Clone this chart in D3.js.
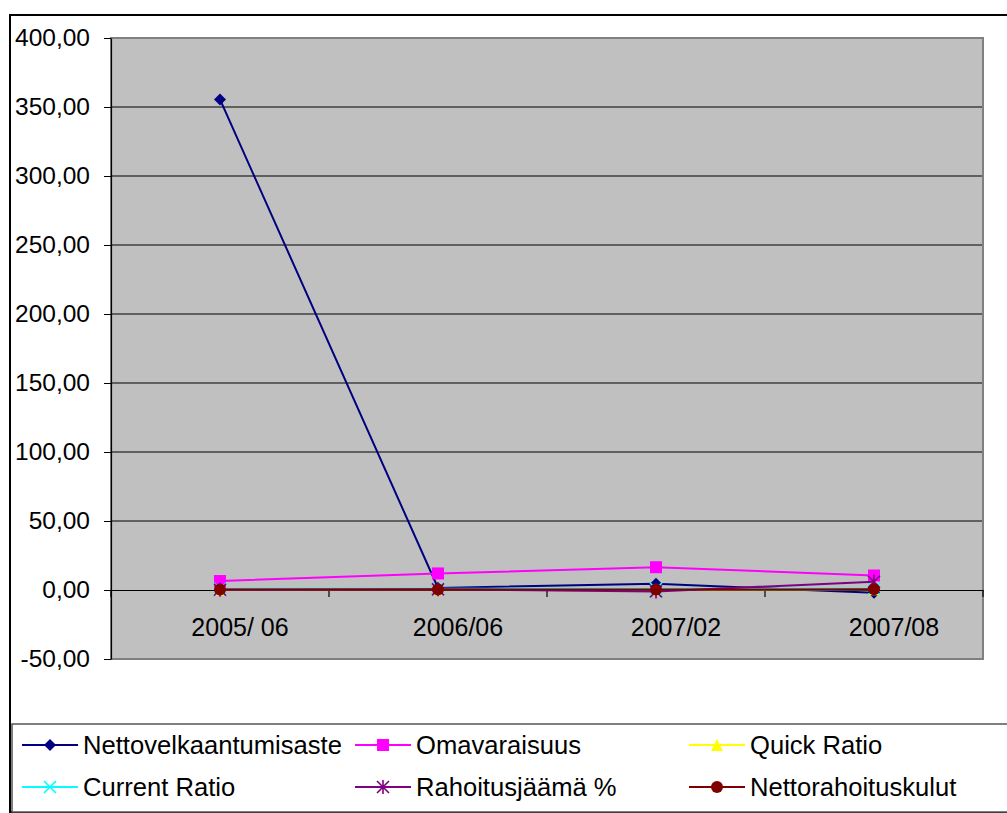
<!DOCTYPE html>
<html>
<head>
<meta charset="utf-8">
<script src="https://cdn.jsdelivr.net/npm/d3@7"></script>
<style>
  html, body { margin: 0; padding: 0; background: #ffffff; }
  svg { display: block; }
  text { font-family: "Liberation Sans", Arial, sans-serif; fill: #000; }
</style>
</head>
<body>
<svg id="chart" width="1007" height="813"></svg>
<script>
// Periods on the category axis
const categories = ["2005/ 06", "2006/06", "2007/02", "2007/08"];

// Key figures per period
const nettovelkaantumisaste = [355.5, 1.5, 4.5, -2];
const omavaraisuus = [6.5, 12, 16.5, 10.5];
const quickRatio = [0.4, 0.5, 0.4, 0.5];
const currentRatio = [0.8, 0.9, 0.8, 0.9];
const rahoitusjaama = [0.2, 0.5, -1, 6];
const nettorahoituskulut = [0.3, 0.4, 0.3, 0.6];

// Value axis ticks
const yTicks = [-50, 0, 50, 100, 150, 200, 250, 300, 350, 400];

const seriesNames = ["Nettovelkaantumisaste", "Omavaraisuus", "Quick Ratio",
                     "Current Ratio", "Rahoitusjäämä %", "Nettorahoituskulut"];
const seriesValues = [nettovelkaantumisaste, omavaraisuus, quickRatio,
                      currentRatio, rahoitusjaama, nettorahoituskulut];
const seriesColors = ["#000080", "#FF00FF", "#FFFF00", "#00FFFF", "#800080", "#800000"];
const seriesMarkers = ["diamond", "square", "triangle", "x", "asterisk", "circle"];

const series = seriesNames.map((name, i) => ({
  name, values: seriesValues[i], color: seriesColors[i], marker: seriesMarkers[i]
}));

const svg = d3.select("#chart");

// Plot area
const plot = { left: 111, right: 983, top: 38, bottom: 659 };

const x = d3.scaleBand().domain(categories).range([plot.left, plot.right]);
const y = d3.scaleLinear().domain([-50, 400]).range([plot.bottom, plot.top]);
const xc = c => x(c) + x.bandwidth() / 2;

const fiLocale = d3.formatLocale({ decimal: ",", thousands: " ", grouping: [3], currency: ["", " €"], minus: "-" });
const fmt = fiLocale.format(".2f");

// Outer chart frame
svg.append("rect")
  .attr("x", 10).attr("y", 15).attr("width", 1010).attr("height", 797)
  .attr("fill", "#fff").attr("stroke", "#000").attr("stroke-width", 2);

// Plot background
svg.append("rect")
  .attr("x", plot.left).attr("y", plot.top)
  .attr("width", plot.right - plot.left).attr("height", plot.bottom - plot.top)
  .attr("fill", "#C0C0C0");

// Horizontal gridlines
svg.append("g")
  .selectAll("line")
  .data(yTicks.filter(v => v > 0 && v < 400))
  .join("line")
  .attr("x1", plot.left).attr("x2", plot.right)
  .attr("y1", d => y(d)).attr("y2", d => y(d))
  .attr("stroke", "#000").attr("stroke-width", 1);

// Plot border
svg.append("rect")
  .attr("x", plot.left).attr("y", plot.top)
  .attr("width", plot.right - plot.left).attr("height", plot.bottom - plot.top)
  .attr("fill", "none").attr("stroke", "#808080").attr("stroke-width", 2);

// Value axis
const yAxis = svg.append("g")
  .attr("transform", `translate(${plot.left},0)`)
  .call(d3.axisLeft(y).tickValues(yTicks).tickFormat(fmt).tickSizeInner(7).tickSizeOuter(0).tickPadding(14));
yAxis.select(".domain").attr("stroke", "#000").attr("stroke-width", 1.2);
yAxis.selectAll(".tick line").attr("stroke", "#000");
yAxis.selectAll(".tick text").attr("font-size", 24.5)
  .style("font-family", '"Liberation Sans", Arial, sans-serif').attr("fill", "#000");

// Category axis at zero
const xAxis = svg.append("g")
  .attr("transform", `translate(0,${y(0)})`)
  .call(d3.axisBottom(x).tickSize(0).tickPadding(28));
xAxis.select(".domain").attr("stroke", "#000").attr("stroke-width", 1.2);
xAxis.selectAll(".tick text").attr("font-size", 25).attr("dx", 20)
  .style("font-family", '"Liberation Sans", Arial, sans-serif').attr("fill", "#000");

// Category boundary tick marks
const boundaries = categories.map(c => x(c)).concat([plot.right]);
xAxis.append("g").selectAll("line")
  .data(boundaries)
  .join("line")
  .attr("x1", d => d).attr("x2", d => d)
  .attr("y1", 0).attr("y2", 7)
  .attr("stroke", "#000").attr("stroke-width", 1.2);

// Marker drawing
function drawMarker(g, type, color) {
  const s = 6;
  switch (type) {
    case "diamond":
      g.append("path").attr("d", `M0,${-s}L${s},0L0,${s}L${-s},0Z`).attr("fill", color);
      break;
    case "square":
      g.append("rect").attr("x", -s).attr("y", -s).attr("width", 2 * s).attr("height", 2 * s).attr("fill", color);
      break;
    case "triangle":
      g.append("path").attr("d", `M0,${-s}L${s},${s}L${-s},${s}Z`).attr("fill", color);
      break;
    case "x":
      g.append("path").attr("d", `M${-s},${-s}L${s},${s}M${-s},${s}L${s},${-s}`)
        .attr("stroke", color).attr("stroke-width", 1.6).attr("fill", "none");
      break;
    case "asterisk":
      g.append("path").attr("d", `M${-s},${-s}L${s},${s}M${-s},${s}L${s},${-s}M0,${-s - 1}L0,${s + 1}`)
        .attr("stroke", color).attr("stroke-width", 1.6).attr("fill", "none");
      break;
    case "circle":
      g.append("circle").attr("r", s).attr("fill", color);
      break;
  }
}

// Series lines and markers
const line = d3.line().x((d, i) => xc(categories[i])).y(d => y(d));
series.forEach(s => {
  const g = svg.append("g");
  g.append("path")
    .attr("d", line(s.values))
    .attr("fill", "none").attr("stroke", s.color).attr("stroke-width", 2);
  s.values.forEach((v, i) => {
    const m = g.append("g").attr("transform", `translate(${xc(categories[i])},${y(v)})`);
    drawMarker(m, s.marker, s.color);
  });
});

// Legend
svg.append("rect")
  .attr("x", 12).attr("y", 724).attr("width", 1010).attr("height", 88)
  .attr("fill", "#fff").attr("stroke", "#555").attr("stroke-width", 1.5);

const legendCols = [22, 355, 689];
const legendRows = [745, 787];
const legend = svg.append("g");
series.forEach((s, i) => {
  const lx = legendCols[i % 3];
  const ly = legendRows[Math.floor(i / 3)];
  const g = legend.append("g").attr("transform", `translate(${lx},${ly})`);
  g.append("line").attr("x1", 0).attr("x2", 56).attr("y1", 0).attr("y2", 0)
    .attr("stroke", s.color).attr("stroke-width", 2);
  drawMarker(g.append("g").attr("transform", "translate(28,0)"), s.marker, s.color);
  g.append("text").attr("x", 61).attr("y", 0).attr("dy", "0.36em")
    .attr("font-size", 25.6).text(s.name);
});
</script>
</body>
</html>
